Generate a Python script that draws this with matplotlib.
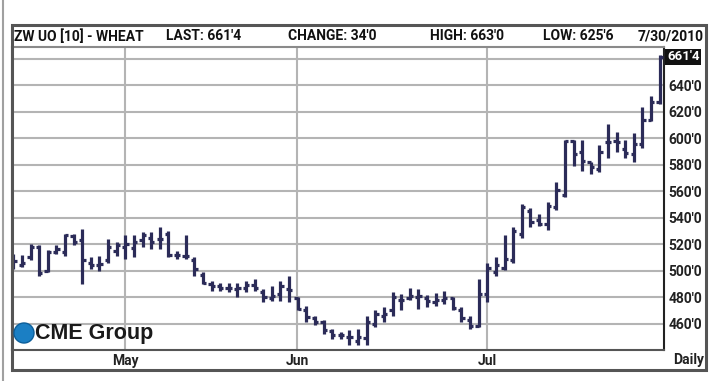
import matplotlib.pyplot as plt
from matplotlib.patches import Rectangle, Ellipse

# Daily OHLC bars, 14 Apr 2010 .. 30 Jul 2010 (one entry per trading day)
opens = [505, 504, 510, 518, 500, 514, 514, 526, 523, 506, 504, 508, 515,
         518, 517, 523, 525, 524, 528, 512, 511, 508, 497, 490, 488, 487,
         486, 487, 489, 484, 479, 482, 486, 479, 470, 464, 461, 454, 451,
         450, 447, 449, 460, 466, 470, 478, 479, 480, 479, 476, 478, 479,
         470, 463, 458, 482, 499, 502, 508, 528, 545, 538, 535, 548, 557,
         598, 590, 582, 577, 597, 598, 592, 588, 596, 614, 627.5]
highs = [512.5, 512, 520, 519, 515.7, 519, 528, 528, 531.6, 510, 511, 524, 521.5,
         526.6, 526.6, 529, 529, 533, 530, 515, 526.6, 510, 498.7, 492.4, 491, 491,
         491, 492, 493.7, 486, 488.6, 492.4, 496, 480, 473, 466, 463, 456, 453.7,
         455, 456, 465.6, 470.6, 472.7, 484, 482, 487, 485.8, 481.5, 483, 484.8, 479.7,
         472.7, 466, 493.4, 506, 510, 527, 533, 550, 547, 543, 552, 566.6, 598.7,
         598.7, 598.7, 582, 595, 611, 605, 598.7, 603.8, 624, 631.6, 663]
lows = [501, 502.5, 508, 496, 499, 512.7, 511, 519.7, 490, 501, 500, 506, 511,
        509, 510, 517.7, 516, 516, 510, 509, 509, 496, 490, 484.8, 484.8, 483.5,
        480, 483.5, 484.8, 476, 477, 477, 476, 470, 461, 459, 452.4, 448.6, 448.6,
        443.5, 443.5, 443.5, 457.5, 461, 466, 470, 477.7, 471, 472.7, 473, 475, 470,
        461, 456, 457.5, 476.5, 496, 500.7, 505.8, 525, 533, 534, 531, 545.6, 555.7,
        579, 575, 572.7, 574.7, 585, 590, 584.8, 582, 592.4, 613, 625.75]
closes = [507, 506, 518, 498, 514, 516, 527, 522, 508, 504, 505, 518, 519,
          520, 522, 527, 522, 524, 512, 512, 511, 501, 491, 488, 487, 487,
          487, 489, 487, 480, 481, 488, 485, 471, 465, 461, 455, 451, 451,
          450, 450, 461, 467, 467, 480, 478, 481, 481, 477, 478, 479, 472,
          464, 458, 482, 502, 504, 509, 530, 548, 537, 535, 549, 561, 598,
          588, 583, 578, 590, 597, 597, 589, 596, 614, 627.5, 661.5]

month_pos = [13, 33, 55]
month_names = ['May', 'Jun', 'Jul']
price_ticks = [460, 480, 500, 520, 540, 560, 580, 600, 620, 640]
grid_levels = price_ticks + [660]

header = ["ZW UO [10] - WHEAT", "LAST: 661'4", "CHANGE: 34'0", "HIGH: 663'0", "LOW: 625'6", "7/30/2010"]
header_x = [14, 166, 288, 430, 543, 704]

narrow = ['Roboto', 'DejaVu Sans']
bar_col = '#2b2b58'
grid_col = '#b4b4b4'

W, H = 710, 381
fig = plt.figure(figsize=(7.1, 3.81), dpi=100)
fig.patch.set_facecolor('white')

ax = fig.add_axes([12 / W, (H - 350) / H, (664 - 12) / W, (350 - 47) / H])
ax.set_xlim(-0.15, 75.5)
ax.set_ylim(440, 669)

# grid
for g in grid_levels:
    ax.axhline(g, color=grid_col, lw=1.5, zorder=0)
for m in month_pos:
    ax.axvline(m - 0.05, color=grid_col, lw=1.5, zorder=0)

# OHLC bars
x = list(range(len(opens)))
tw = 0.38
ax.vlines(x, lows, highs, color=bar_col, lw=2.3, zorder=3)
ax.hlines(opens, [i - tw for i in x], x, color=bar_col, lw=2.3, zorder=3)
ax.hlines(closes, x, [i + tw for i in x], color=bar_col, lw=2.3, zorder=3)

# axes styling
ax.yaxis.tick_right()
ax.set_yticks(price_ticks)
ax.set_yticklabels([f"{v}'0" for v in price_ticks], family=narrow, fontweight='bold', fontsize=10)
ax.set_xticks(month_pos)
ax.set_xticklabels(month_names, family=narrow, fontweight='bold', fontsize=10)
ax.tick_params(axis='both', length=0, colors='#222222')
ax.tick_params(axis='y', pad=3)
ax.tick_params(axis='x', pad=3)
for s in ['left', 'top']:
    ax.spines[s].set_color('#8a8a8a')
    ax.spines[s].set_linewidth(1.5)
ax.spines['right'].set_color('#222222')
ax.spines['right'].set_linewidth(1.5)
ax.spines['bottom'].set_color('#555555')
ax.spines['bottom'].set_linewidth(1.5)

# last price box
ax.text(75.85, 661.5, "661'4", transform=ax.transData, ha='left', va='center',
        family=narrow, fontweight='bold', fontsize=9.5, color='white',
        bbox=dict(facecolor='#111111', edgecolor='none', pad=1.2), clip_on=False)

# outer frame
fig.patches.append(Rectangle((12 / W, (H - 370) / H), (706 - 12) / W, (370 - 25) / H,
                             transform=fig.transFigure, fill=False,
                             edgecolor='#555555', lw=2.2))
fig.add_artist(plt.Line2D([3 / W, 3 / W], [0, 1], color='#a0a0a0', lw=1.5))

# header
for t, hx in zip(header, header_x):
    fig.text(hx / W, (H - 36.5) / H, t, ha='right' if hx > 700 else 'left', va='center',
             family=narrow, fontweight='bold', fontsize=10, color='#111111')

fig.text(704 / W, (H - 360) / H, 'Daily', ha='right', va='center',
         family=narrow, fontweight='bold', fontsize=10, color='#222222')

# CME Group logo
fig.patches.append(Ellipse((24 / W, (H - 333) / H), 20 / W, 20 / H, transform=fig.transFigure,
                           facecolor='#1b7fc4', edgecolor='#0d5f9a', lw=1))
fig.text(35 / W, (H - 333) / H, 'CME Group', ha='left', va='center',
         family=['Liberation Sans', 'DejaVu Sans'], fontweight='bold', fontsize=15.5,
         color='#1a1a1a')

fig.savefig('out.png', dpi=100)
